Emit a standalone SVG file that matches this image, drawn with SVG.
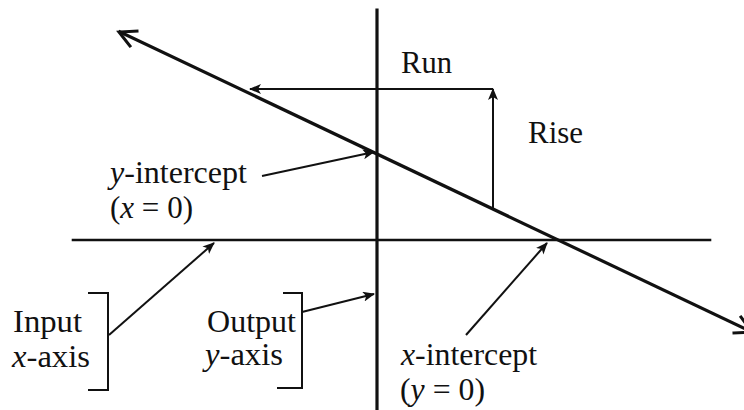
<svg xmlns="http://www.w3.org/2000/svg" width="744" height="410" viewBox="0 0 744 410">
<defs>
<style>
text{font-family:"Liberation Serif","Times New Roman",serif;font-size:31px;fill:#111}
.it{font-style:italic}
.ax{stroke:#111;fill:none;stroke-linecap:square}
.ptr{stroke:#111;stroke-width:2;fill:none}
</style>
<marker id="ah" viewBox="0 0 12 10" refX="11" refY="5" markerWidth="12" markerHeight="10" markerUnits="userSpaceOnUse" orient="auto">
<path d="M0,0 L12,5 L0,10 L3,5 z" fill="#111"/>
</marker>
</defs>
<rect width="744" height="410" fill="#fff"/>
<g id="connectors">
<line class="ax" x1="377" y1="10" x2="377" y2="410" stroke-width="3.2"/>
<line class="ax" x1="73" y1="240" x2="710" y2="240" stroke-width="2.6"/>
<line class="ax" x1="120" y1="32" x2="752" y2="332" stroke-width="3.2"/>
<path class="ax" d="M130,46 L119,32 L137,31" stroke-width="3"/>
<path class="ax" d="M734,333 L752,332 L741,317" stroke-width="3"/>
<line class="ptr" x1="493" y1="89" x2="250" y2="89" stroke-width="1.8" marker-end="url(#ah)"/>
<line class="ptr" x1="493" y1="208" x2="493" y2="89" stroke-width="1.8" marker-end="url(#ah)"/>
<line class="ptr" x1="262" y1="176" x2="374" y2="152" marker-end="url(#ah)"/>
<line class="ptr" x1="109" y1="335" x2="214" y2="243" marker-end="url(#ah)"/>
<line class="ptr" x1="302" y1="312" x2="374" y2="294" marker-end="url(#ah)"/>
<line class="ptr" x1="466" y1="335" x2="547" y2="243" marker-end="url(#ah)"/>
<path class="ptr" d="M88,293 L108,293 L108,390 L88,390" stroke-width="1.8"/>
<path class="ptr" d="M283,293 L302,293 L302,388 L277,388" stroke-width="1.8"/>
</g>
<g id="run"><text x="401" y="73" textLength="51" lengthAdjust="spacingAndGlyphs">Run</text></g>
<g id="rise"><text x="528" y="143" textLength="55" lengthAdjust="spacingAndGlyphs">Rise</text></g>
<g id="y-intercept">
<text x="110" y="183" textLength="137" lengthAdjust="spacingAndGlyphs"><tspan class="it">y</tspan>-intercept</text>
<text x="110" y="218" textLength="83" lengthAdjust="spacingAndGlyphs">(<tspan class="it">x</tspan> = 0)</text>
</g>
<g id="x-intercept">
<text x="401" y="365" textLength="136" lengthAdjust="spacingAndGlyphs"><tspan class="it">x</tspan>-intercept</text>
<text x="400" y="400" textLength="85" lengthAdjust="spacingAndGlyphs">(<tspan class="it">y</tspan> = 0)</text>
</g>
<g id="input">
<text x="13" y="332" textLength="69" lengthAdjust="spacingAndGlyphs">Input</text>
<text x="12" y="367" textLength="78" lengthAdjust="spacingAndGlyphs"><tspan class="it">x</tspan>-axis</text>
</g>
<g id="output">
<text x="207" y="332" textLength="89" lengthAdjust="spacingAndGlyphs">Output</text>
<text x="205" y="365" textLength="78" lengthAdjust="spacingAndGlyphs"><tspan class="it">y</tspan>-axis</text>
</g>
</svg>
